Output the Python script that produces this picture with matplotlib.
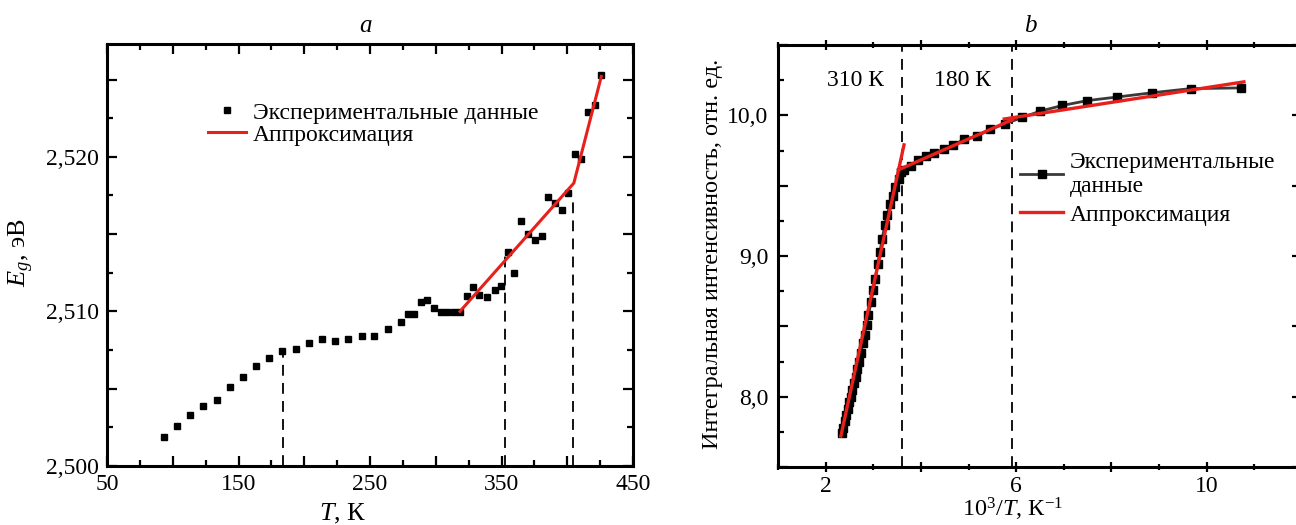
import matplotlib
matplotlib.use("Agg")
import matplotlib.pyplot as plt
from matplotlib.ticker import MultipleLocator, FuncFormatter

plt.rcParams["font.family"] = ["Liberation Serif", "DejaVu Serif"]
plt.rcParams["mathtext.fontset"] = "custom"
plt.rcParams["mathtext.rm"] = "Liberation Serif"
plt.rcParams["mathtext.it"] = "Liberation Serif:italic"
plt.rcParams["font.size"] = 16

# measured temperatures, K
temp_K = [93.3, 103.5, 113.1, 123.2, 133.4, 143.5, 153.7, 163.1, 173.4, 183.3,
          193.5, 203.6, 213.7, 223.4, 233.5, 243.7, 253.3, 263.5, 273.6, 278.7,
          283.2, 288.5, 293.3, 298.4, 303.7, 308.5, 313.9, 318.4, 323.5, 328.6,
          333.1, 338.7, 345.0, 349.7, 355.1, 359.7, 365.2, 370.3, 375.4, 380.6,
          385.4, 390.6, 395.8, 400.6, 405.8, 410.5, 415.6, 421.3, 425.9]

# band gap, eV
eg_eV = [2.50188, 2.50259, 2.50332, 2.50388, 2.50425, 2.50513, 2.50578, 2.50647,
         2.50697, 2.50746, 2.50759, 2.50794, 2.50820, 2.50809, 2.50822, 2.50839,
         2.50839, 2.50885, 2.50930, 2.50984, 2.50984, 2.51061, 2.51076, 2.51020,
         2.50999, 2.50999, 2.50999, 2.50999, 2.51102, 2.51161, 2.51107, 2.51092,
         2.51137, 2.51167, 2.51387, 2.51249, 2.51588, 2.51500, 2.51463, 2.51491,
         2.51737, 2.51700, 2.51657, 2.51765, 2.52017, 2.51989, 2.52291, 2.52337,
         2.52531]

# integral intensity (arb. units), same temperatures
intensity = [10.195, 10.19, 10.16, 10.13, 10.105, 10.07, 10.03, 9.985, 9.94, 9.90,
             9.85, 9.83, 9.79, 9.76, 9.73, 9.71, 9.68, 9.64, 9.61, 9.60,
             9.55, 9.49, 9.43, 9.37, 9.29, 9.22, 9.12, 9.03, 8.94, 8.84,
             8.76, 8.67, 8.58, 8.51, 8.44, 8.38, 8.31, 8.25, 8.20, 8.14,
             8.10, 8.05, 8.00, 7.96, 7.91, 7.87, 7.83, 7.78, 7.74]

# piecewise linear fit of Eg(T)
fit_a_T = [318.4, 405.0, 425.9]
fit_a_E = [2.5100, 2.5183, 2.5252]

# vertical markers (T, top of the dashed line)
mark_a_T = [183.8, 352.8, 404.7]
mark_a_E = [2.5074, 2.5137, 2.5173]

# linear fits of intensity vs 10^3/T, one pair of ends per segment
fit_b_x = [(2.32, 3.645), (3.53, 5.92), (5.75, 10.78)]
fit_b_y = [(7.72, 9.79), (9.613, 9.969), (9.974, 10.238)]

mark_b_x = [3.6, 5.92]
regions_b = ["310 К", "180 К"]
regions_b_x = [2.63, 4.87]

inv_T = [1000.0 / t for t in temp_K]

RED = "#e8201c"
dash = (0, (6, 4))


def comma(fmt, keep):
    def f(v, _):
        if not keep(v):
            return ""
        return fmt.format(v).replace(".", ",")
    return FuncFormatter(f)


fig = plt.figure(figsize=(12.96, 5.25), dpi=100)
ax1 = fig.add_axes([107 / 1296, 59 / 525, 526 / 1296, 422 / 525])
ax2 = fig.add_axes([778 / 1296, 58 / 525, 524 / 1296, 422 / 525])

# --- a: Eg(T)
for t, e in zip(mark_a_T, mark_a_E):
    ax1.plot([t, t], [2.500, e], color="black", lw=1.3, ls=dash, zorder=1)
ax1.plot(temp_K, eg_eV, ls="none", marker="s", ms=5, color="black",
         label="Экспериментальные данные", zorder=3)
ax1.plot(fit_a_T, fit_a_E, color=RED, lw=2.2, label="Аппроксимация", zorder=4)

ax1.set_xlim(50, 450)
ax1.set_ylim(2.500, 2.5273)
ax1.xaxis.set_major_locator(MultipleLocator(50))
ax1.xaxis.set_minor_locator(MultipleLocator(25))
ax1.xaxis.set_major_formatter(comma("{:.0f}", lambda v: round(v) % 100 == 50))
ax1.yaxis.set_major_locator(MultipleLocator(0.005))
ax1.yaxis.set_minor_locator(MultipleLocator(0.0025))
ax1.yaxis.set_major_formatter(
    comma("{:.3f}", lambda v: abs(round(v * 1000) % 10) == 0))
ax1.tick_params(which="both", direction="in", top=True, right=True, width=1.6,
                labelsize=17)
ax1.tick_params(which="major", length=7, pad=6)
ax1.tick_params(which="minor", length=4)
ax1.set_xlabel("$T$, К", fontsize=19, va="top")
ax1.xaxis.set_label_coords(0.449, -0.085)
ax1.set_ylabel("$E_g$, эВ", fontsize=19)
ax1.yaxis.set_label_coords(-0.135, 0.505)
ax1.set_title("a", style="italic", x=0.492, pad=9, fontsize=18)
ax1.legend(loc="upper left", bbox_to_anchor=(0.17, 0.89), frameon=False,
           numpoints=1, handlelength=1.6, handletextpad=0.3,
           labelspacing=0.02, borderpad=0, fontsize=17)

# --- b: integral intensity vs 10^3/T
for xv in mark_b_x:
    ax2.axvline(xv, color="black", lw=1.3, ls=dash, zorder=1)
ax2.plot(inv_T, intensity, color="#3a3a3a", lw=2, marker="s", ms=6,
         mfc="black", mec="black", label="Экспериментальные\nданные", zorder=3)
for i, (xs, ys) in enumerate(zip(fit_b_x, fit_b_y)):
    ax2.plot(xs, ys, color=RED, lw=2.4, zorder=4,
             label="Аппроксимация" if i == 0 else None)
for txt, xv in zip(regions_b, regions_b_x):
    ax2.text(xv, 10.245, txt, ha="center", va="center", fontsize=17)

ax2.set_xlim(1, 12)
ax2.set_ylim(7.5, 10.5)
ax2.xaxis.set_major_locator(MultipleLocator(2))
ax2.xaxis.set_minor_locator(MultipleLocator(1))
ax2.xaxis.set_major_formatter(comma("{:.0f}", lambda v: round(v) % 4 == 2))
ax2.yaxis.set_major_locator(MultipleLocator(0.5))
ax2.yaxis.set_minor_locator(MultipleLocator(0.25))
ax2.yaxis.set_major_formatter(comma("{:.1f}", lambda v: abs(v - round(v)) < 1e-6))
ax2.tick_params(which="both", direction="in", top=True, right=True, width=1.6,
                labelsize=17)
ax2.tick_params(which="major", length=7, pad=7)
ax2.tick_params(which="minor", length=4)
ax2.tick_params(axis="x", which="both", direction="inout", pad=3)
ax2.set_xlabel("10$^3$/$T$, К$^{-1}$", fontsize=17.5, va="top")
ax2.xaxis.set_label_coords(0.447, -0.068)
ax2.set_ylabel("Интегральная интенсивность, отн. ед.", fontsize=17.5)
ax2.yaxis.set_label_coords(-0.105, 0.505)
ax2.set_title("b", style="italic", x=0.481, pad=9, fontsize=18)
ax2.legend(loc="upper left", bbox_to_anchor=(0.44, 0.775), frameon=False,
           numpoints=1, handlelength=1.8, handletextpad=0.3,
           labelspacing=0.3, borderpad=0, fontsize=17)

for ax in (ax1, ax2):
    for s in ax.spines.values():
        s.set_linewidth(2.2)

fig.savefig("out.png", dpi=100)
